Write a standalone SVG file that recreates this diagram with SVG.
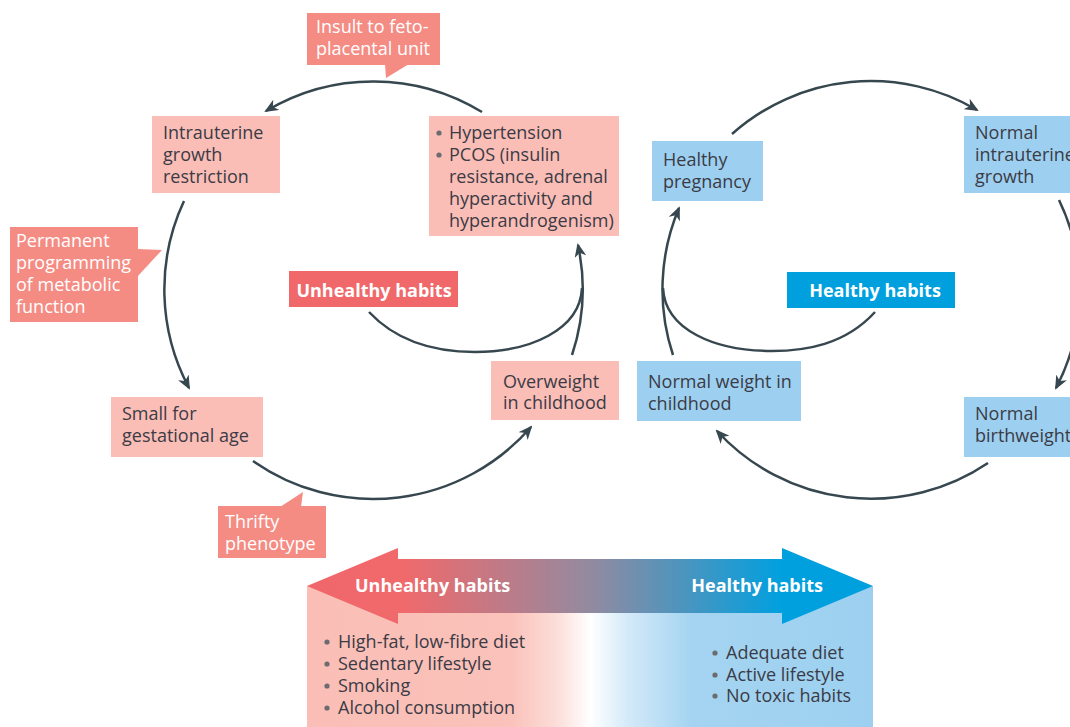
<svg xmlns="http://www.w3.org/2000/svg" width="1070" height="727" viewBox="0 0 1070 727">
<defs>
<style>
.t{font-family:"Open Sans","Liberation Sans",sans-serif;font-size:18px;fill:#3b3b46}
.w{font-family:"Open Sans","Liberation Sans",sans-serif;font-size:18px;fill:#ffffff}
.b{font-family:"Open Sans","Liberation Sans",sans-serif;font-size:18px;font-weight:bold;fill:#ffffff}
.pink{fill:#FABEB6}
.call{fill:#F58C84}
.blue{fill:#9DD0F0}
.conn{fill:none;stroke:#37474F;stroke-width:2.5}
.dot{fill:#6b6b70}
</style>
<marker id="ah" markerUnits="userSpaceOnUse" markerWidth="14" markerHeight="12" viewBox="0 0 14 12" refX="12" refY="6" orient="auto">
<path d="M0,0 L14,6 L0,12 L4,6 z" fill="#37474F"/>
</marker>
<linearGradient id="boxg" gradientUnits="userSpaceOnUse" x1="307" y1="0" x2="873" y2="0">
<stop offset="0" stop-color="#FABEB6"/>
<stop offset="0.36" stop-color="#FAC2BA"/>
<stop offset="0.44" stop-color="#FCDDD8"/>
<stop offset="0.5" stop-color="#FFFFFF"/>
<stop offset="0.57" stop-color="#D2E9F8"/>
<stop offset="0.68" stop-color="#A4D4F1"/>
<stop offset="1" stop-color="#9DD0F0"/>
</linearGradient>
<linearGradient id="arrg" gradientUnits="userSpaceOnUse" x1="307" y1="0" x2="873" y2="0">
<stop offset="0" stop-color="#F0676B"/>
<stop offset="0.17" stop-color="#F0696B"/>
<stop offset="0.5" stop-color="#938AA0"/>
<stop offset="0.84" stop-color="#00A0DF"/>
<stop offset="1" stop-color="#00A0DF"/>
</linearGradient>
</defs>
<rect width="1070" height="727" fill="#ffffff"/>

<g id="connectors">
<path class="conn" d="M482,112 A209,209 0 0 0 266,111" marker-end="url(#ah)"/>
<path class="conn" d="M184,201 A209,209 0 0 0 189,388" marker-end="url(#ah)"/>
<path class="conn" d="M253,461 A209,209 0 0 0 531,427" marker-end="url(#ah)"/>
<path class="conn" d="M572,355 A209,209 0 0 0 578,245" marker-end="url(#ah)"/>
<path class="conn" d="M369,312 C400,345 440,352 475,352 C530,352 580,330 582,288"/>
<path class="conn" d="M732,134 A209,209 0 0 1 977,110" marker-end="url(#ah)"/>
<path class="conn" d="M1059,200 A209,209 0 0 1 1056,388" marker-end="url(#ah)"/>
<path class="conn" d="M988,463 A209,209 0 0 1 717,431" marker-end="url(#ah)"/>
<path class="conn" d="M673,355 A209,209 0 0 1 679,208" marker-end="url(#ah)"/>
<path class="conn" d="M875,312 C845,345 805,351 772,351 C715,351 665,330 663,288"/>
</g>

<g id="insult">
<rect class="call" x="307" y="13" width="133" height="52"/>
<polygon class="call" points="385,64 386,78 409,64"/>
<text class="w" x="316" y="33">Insult to feto-</text>
<text class="w" x="316" y="55">placental unit</text>
</g>

<g id="iugr">
<rect class="pink" x="152" y="116" width="128" height="77"/>
<text class="t" x="163" y="139">Intrauterine</text>
<text class="t" x="163" y="161">growth</text>
<text class="t" x="163" y="183">restriction</text>
</g>

<g id="hypertension">
<rect class="pink" x="429" y="116" width="190" height="120"/>
<circle class="dot" cx="439" cy="133" r="2.6"/>
<circle class="dot" cx="439" cy="155" r="2.6"/>
<text class="t" x="449" y="139">Hypertension</text>
<text class="t" x="449" y="161">PCOS (insulin</text>
<text class="t" x="449" y="183">resistance, adrenal</text>
<text class="t" x="449" y="205">hyperactivity and</text>
<text class="t" x="449" y="227">hyperandrogenism)</text>
</g>

<g id="programming">
<rect class="call" x="10" y="227" width="128" height="95"/>
<polygon class="call" points="137,249 162,250 137,277"/>
<text class="w" x="16" y="247">Permanent</text>
<text class="w" x="16" y="269">programming</text>
<text class="w" x="16" y="291">of metabolic</text>
<text class="w" x="16" y="313">function</text>
</g>

<g id="sga">
<rect class="pink" x="111" y="397" width="152" height="60"/>
<text class="t" x="122" y="420">Small for</text>
<text class="t" x="122" y="442">gestational age</text>
</g>

<g id="thrifty">
<rect class="call" x="218" y="506" width="108" height="52"/>
<polygon class="call" points="280,507 303,492 301,507"/>
<text class="w" x="225" y="528">Thrifty</text>
<text class="w" x="225" y="550">phenotype</text>
</g>

<g id="unhealthy-label">
<rect x="289" y="271" width="169" height="36" fill="#F0686A"/>
<text class="b" x="374" y="297" text-anchor="middle">Unhealthy habits</text>
</g>

<g id="overweight">
<rect class="pink" x="491" y="361" width="128" height="59"/>
<text class="t" x="503" y="388">Overweight</text>
<text class="t" x="503" y="409">in childhood</text>
</g>

<g id="healthy-pregnancy">
<rect class="blue" x="652" y="141" width="111" height="60"/>
<text class="t" x="663" y="166">Healthy</text>
<text class="t" x="663" y="188">pregnancy</text>
</g>

<g id="normal-growth">
<rect class="blue" x="964" y="116" width="120" height="77"/>
<text class="t" x="975" y="139">Normal</text>
<text class="t" x="975" y="161">intrauterine</text>
<text class="t" x="975" y="183">growth</text>
</g>

<g id="healthy-label">
<rect x="787" y="272" width="168" height="36" fill="#00A0DF"/>
<text class="b" x="875" y="297" text-anchor="middle">Healthy habits</text>
</g>

<g id="normal-weight">
<rect class="blue" x="637" y="361" width="164" height="60"/>
<text class="t" x="648" y="388">Normal weight in</text>
<text class="t" x="648" y="410">childhood</text>
</g>

<g id="normal-birthweight">
<rect class="blue" x="964" y="397" width="120" height="60"/>
<text class="t" x="975" y="420">Normal</text>
<text class="t" x="975" y="442">birthweight</text>
</g>

<g id="habits-scale">
<rect x="307" y="586" width="566" height="141" fill="url(#boxg)"/>
<polygon fill="url(#arrg)" points="307,586 398,548 398,559 782,559 782,548 873,586 782,624 782,613 398,613 398,624"/>
<text class="b" x="355" y="592">Unhealthy habits</text>
<text class="b" x="823" y="592" text-anchor="end">Healthy habits</text>
<circle class="dot" cx="327" cy="642" r="2.6"/>
<circle class="dot" cx="327" cy="664" r="2.6"/>
<circle class="dot" cx="327" cy="686" r="2.6"/>
<circle class="dot" cx="327" cy="708" r="2.6"/>
<text class="t" x="338" y="648">High-fat, low-fibre diet</text>
<text class="t" x="338" y="670">Sedentary lifestyle</text>
<text class="t" x="338" y="692">Smoking</text>
<text class="t" x="338" y="714">Alcohol consumption</text>
<circle class="dot" cx="715" cy="653" r="2.6"/>
<circle class="dot" cx="715" cy="675" r="2.6"/>
<circle class="dot" cx="715" cy="696" r="2.6"/>
<text class="t" x="726" y="659">Adequate diet</text>
<text class="t" x="726" y="681">Active lifestyle</text>
<text class="t" x="726" y="702">No toxic habits</text>
</g>
</svg>
